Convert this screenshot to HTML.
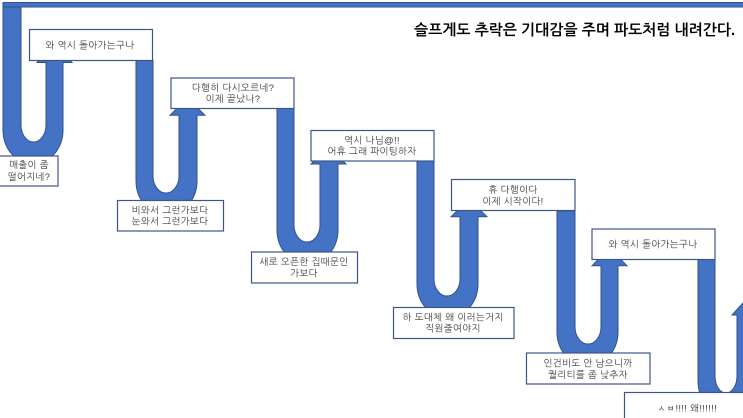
<!DOCTYPE html>
<html lang="ko"><head><meta charset="utf-8"><style>
html,body{margin:0;padding:0;background:#fff;width:743px;height:418px;overflow:hidden}
svg{display:block;filter:blur(.3px)}
.a{fill:#4472C4;stroke:#2F528F;stroke-width:1}
.b{fill:#fff;stroke:#3d5688;stroke-width:1.2}
text{font-family:"Liberation Sans","NanumGothic","Noto Sans CJK KR",sans-serif;font-size:9.5px;letter-spacing:.3px;fill:#404040;text-anchor:middle}
.t{font-size:15px;font-weight:bold;fill:#000;text-anchor:start;letter-spacing:0}
</style></head><body>
<svg width="743" height="418" viewBox="0 0 743 418" xmlns="http://www.w3.org/2000/svg">
<rect class="a" x="3" y="2.5" width="741" height="4.5"/>
<path class="a" d="M3 7V130A30 34 0 0 0 63 130V62.5H72L54.5 45L37 62.5H46V125A12.5 17 0 0 1 21 125V7Z"/>
<path class="a" d="M136 60V181A30.5 34 0 0 0 197 181V115.3H205L187.5 98L170 115.3H179V176A13 17 0 0 1 153 176V60Z"/>
<path class="a" d="M277 108V230A30.5 34 0 0 0 338 230V164H346L328.5 146L311 164H320V225A13 17 0 0 1 294 225V108Z"/>
<path class="a" d="M417 161V284A30.5 34 0 0 0 478 284V216.7H487L469 199L451 216.7H460V279A13 17 0 0 1 434 279V161Z"/>
<path class="a" d="M557 211V332A30.5 34 0 0 0 618 332V265.7H627L609.5 248L592 265.7H601V327A13 17 0 0 1 575 327V211Z"/>
<path class="a" d="M698 259V381A30 34 0 0 0 760 381V315H755L743 303L732 315H737V376A11 17 0 0 1 715 376V259Z"/>
<rect class="b" x="29.5" y="29.5" width="123" height="31"/>
<text x="90" y="48.5">와 역시 돌아가는구나</text>
<rect class="b" x="-1" y="156" width="59" height="30"/>
<text x="29" y="168">매출이 좀</text><text x="29" y="180">떨어지네?</text>
<rect class="b" x="171" y="78" width="123" height="30.5"/>
<text x="233" y="91">다행히 다시오르네?</text><text x="233" y="102">이제 끝났나?</text>
<rect class="b" x="117.5" y="200.5" width="106" height="30.5"/>
<text x="170" y="213.5">비와서 그런가보다</text><text x="170" y="224.5">눈와서 그런가보다</text>
<rect class="b" x="311" y="130.5" width="123" height="30.5"/>
<text x="372" y="143.5">역시 나님@!!</text><text x="372" y="154.5">어휴 그래 파이팅하자</text>
<rect class="b" x="251.5" y="252" width="106" height="31"/>
<text x="304" y="265">새로 오픈한 집때문인</text><text x="304" y="276.5">가보다</text>
<rect class="b" x="451.5" y="179.5" width="123.5" height="31"/>
<text x="513" y="193">휴 다행이다</text><text x="513" y="204.5">이제 시작이다!</text>
<rect class="b" x="393.5" y="307.5" width="120.5" height="31"/>
<text x="453" y="320.5">하 도대체 왜 이러는거지</text><text x="453" y="331.5">직원줄여야지</text>
<rect class="b" x="592" y="229" width="123" height="30.5"/>
<text x="653" y="247.5">와 역시 돌아가는구나</text>
<rect class="b" x="526.5" y="353" width="123.5" height="31"/>
<text x="588" y="366.5">인건비도 안 남으니까</text><text x="588" y="378">퀄리티를 좀 낮추자</text>
<rect class="b" x="624.5" y="392.5" width="130" height="40"/>
<text x="687" y="411.5">ㅅㅂ!!!! 왜!!!!!!</text>
<text class="t" x="414" y="35">슬프게도 추락은 기대감을 주며 파도처럼 내려간다.</text>
</svg>
</body></html>
